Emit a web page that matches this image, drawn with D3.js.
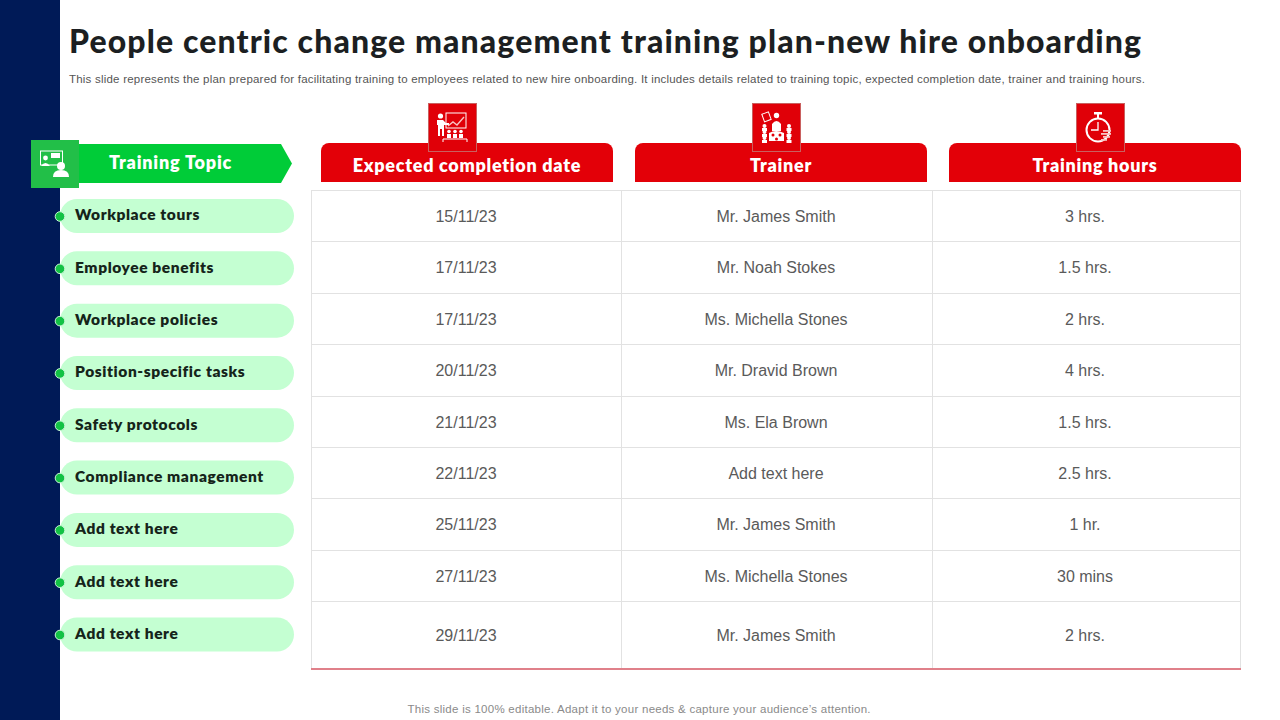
<!DOCTYPE html>
<html><head><meta charset="utf-8">
<script src="https://cdn.jsdelivr.net/npm/d3@7/dist/d3.min.js"></script>
<style>html,body{margin:0;padding:0;background:#fff;overflow:hidden}svg{display:block}</style>
</head><body><svg id="c" width="1280" height="720"></svg>
<script>
const titleText = "People centric change management training plan-new hire onboarding";
const subtitleText = "This slide represents the plan prepared for facilitating training to employees related to new hire onboarding. It includes details related to training topic, expected completion date, trainer and training hours.";
const footerText = "This slide is 100% editable. Adapt it to your needs & capture your audience\u2019s attention.";
const topicHeader = "Training Topic";
const columnHeaders = ["Expected completion date", "Trainer", "Training hours"];
const topics = ["Workplace tours","Employee benefits","Workplace policies","Position-specific tasks","Safety protocols","Compliance management","Add text here","Add text here","Add text here"];
const dates = ["15/11/23","17/11/23","17/11/23","20/11/23","21/11/23","22/11/23","25/11/23","27/11/23","29/11/23"];
const trainers = ["Mr. James Smith","Mr. Noah Stokes","Ms. Michella Stones","Mr. Dravid Brown","Ms. Ela Brown","Add text here","Mr. James Smith","Ms. Michella Stones","Mr. James Smith"];
const hours = ["3 hrs.","1.5 hrs.","2 hrs.","4 hrs.","1.5 hrs.","2.5 hrs.","1 hr.","30 mins","2 hrs."];

const svg = d3.select("#c");
const GEO = "Lato, 'Noto Sans', sans-serif", BODY = "'Liberation Sans', Arial, sans-serif";
const RED = "#e30008", GREEN = "#00cc38", MINT = "#c4ffd2", NAVY = "#001a57";

svg.append("rect").attr("x",0).attr("y",0).attr("width",60).attr("height",720).attr("fill",NAVY);

svg.append("text").attr("x",69).attr("y",53).attr("font-family",GEO).attr("font-weight",900)
  .attr("font-size",32).attr("fill","#1c1f22").attr("textLength",1072).attr("lengthAdjust","spacing").text(titleText);
svg.append("text").attr("x",69).attr("y",83).attr("font-family",BODY).attr("font-size",11.5)
  .attr("fill","#555").attr("textLength",1076).attr("lengthAdjust","spacing").text(subtitleText);
svg.append("text").attr("x",639).attr("y",713).attr("text-anchor","middle").attr("font-family",BODY)
  .attr("font-size",11.5).attr("fill","#8a8a8a").attr("textLength",463).attr("lengthAdjust","spacing").text(footerText);

/* Left: topic header */
svg.append("path").attr("d","M78,144H281L292,163.5L281,183H78Z").attr("fill",GREEN);
svg.append("rect").attr("x",31).attr("y",140).attr("width",48).attr("height",48).attr("fill","#22bf48");
svg.append("text").attr("x",170.5).attr("y",169).attr("text-anchor","middle").attr("font-family",GEO)
  .attr("font-weight",800).attr("font-size",18).attr("letter-spacing",0.8).attr("fill","#fff").text(topicHeader);
const ti = svg.append("g").attr("transform","translate(31,140)").attr("fill","#fff");
ti.append("rect").attr("x",9.5).attr("y",11).attr("width",22).attr("height",14).attr("fill","none").attr("stroke","#fff").attr("stroke-width",1);
ti.append("rect").attr("x",20).attr("y",13).attr("width",9).attr("height",5);
ti.append("circle").attr("cx",14.5).attr("cy",18).attr("r",2.4);
ti.append("path").attr("d","M10,26q4.5,-6 9,0Z");
ti.append("circle").attr("cx",30).attr("cy",26).attr("r",4);
ti.append("path").attr("d","M22,37q0,-7 8,-7q8,0 8,7Z");

/* Left: topic pills */
const pillY = d3.scalePoint().domain(d3.range(topics.length)).range([216,634.5]);
const pill = svg.append("g").selectAll("g").data(topics).join("g")
  .attr("transform",(d,i)=>`translate(0,${pillY(i)})`);
pill.append("rect").attr("x",60).attr("y",-17).attr("width",234).attr("height",34).attr("rx",17).attr("fill",MINT);
pill.append("circle").attr("cx",60).attr("cy",0.5).attr("r",4.8).attr("fill","#12c244").attr("stroke","#c9f5d5").attr("stroke-width",1);
pill.append("text").attr("x",75).attr("y",4.3).attr("font-family",GEO).attr("font-weight",800)
  .attr("font-size",15.5).attr("letter-spacing",0.6).attr("fill","#15241a").text(d=>d);

/* Table */
const colEdges = [311.5,621.5,932.5,1240.5];
const rowY = d3.scaleLinear().domain([0,8]).range([190,601]);
const rowBottom = i => i === topics.length-1 ? 669 : rowY(i+1);
const columns = [dates, trainers, hours];
const colCentres = [466,776,1085];
const grid = svg.append("g").attr("stroke","#e2e2e2").attr("stroke-width",1);
d3.range(0,9).forEach(i=>grid.append("line").attr("x1",311).attr("x2",1241).attr("y1",Math.round(rowY(i))+.5).attr("y2",Math.round(rowY(i))+.5));
colEdges.forEach(x=>grid.append("line").attr("y1",190).attr("y2",669).attr("x1",x).attr("x2",x));
svg.append("line").attr("x1",311).attr("x2",1241).attr("y1",669).attr("y2",669).attr("stroke","#e0808a").attr("stroke-width",2);
columns.forEach((col,c)=>{
  svg.append("g").selectAll("text").data(col).join("text")
    .attr("x",colCentres[c]).attr("y",(d,i)=>(rowY(i)+rowBottom(i))/2+6.4)
    .attr("text-anchor","middle").attr("font-family",BODY).attr("font-size",16).attr("fill","#5a5a5a").text(d=>d);
});

/* Column headers */
const headX = [321,635,949], headW = 292, iconX = [428,752,1076];
columnHeaders.forEach((h,i)=>{
  const x = headX[i];
  svg.append("path").attr("d",`M${x},182V151a8,8 0 0 1 8,-8H${x+headW-8}a8,8 0 0 1 8,8V182Z`).attr("fill",RED);
  svg.append("text").attr("x",x+headW/2).attr("y",172).attr("text-anchor","middle").attr("font-family",GEO)
    .attr("font-weight",800).attr("font-size",18).attr("letter-spacing",0.7).attr("fill","#fff").text(h);
  svg.append("rect").attr("x",iconX[i]+.5).attr("y",103.5).attr("width",48).attr("height",48)
    .attr("fill","#e00008").attr("stroke","#c9605f").attr("stroke-width",1);
});
/* Icon 1: presenter */
const a = svg.append("g").attr("transform","translate(428,103)").attr("fill","#fff").attr("stroke","none");
a.append("circle").attr("cx",12.5).attr("cy",13).attr("r",2.6);
a.append("path").attr("d","M9,17h6l3,3h3v2h-5v11h-2v-7h-2v7h-2V22H9Z");
a.append("rect").attr("x",18).attr("y",10).attr("width",20).attr("height",15).attr("fill","none").attr("stroke","#fff");
a.append("path").attr("d","M20,23l5,-4l4,3l7,-8").attr("fill","none").attr("stroke","#f7c3c3").attr("stroke-width",1.4);
[21,27,33].forEach(x=>{a.append("circle").attr("cx",x).attr("cy",28.5).attr("r",1.8);a.append("rect").attr("x",x-2).attr("y",31).attr("width",4).attr("height",4);});
a.append("path").attr("d","M15,39v-3h24v3").attr("fill","none").attr("stroke","#fff");
/* Icon 2: trainer with group */
const b = svg.append("g").attr("transform","translate(752,103)").attr("fill","#fff");
b.append("rect").attr("x",11).attr("y",10).attr("width",7).attr("height",8).attr("fill","none").attr("stroke","#fff").attr("transform","rotate(-20 14 14)");
b.append("circle").attr("cx",24.5).attr("cy",12.5).attr("r",2.7);
b.append("path").attr("d","M20,21q4.5,-6 9,0v7h-9Z");
b.append("path").attr("d","M17,38v-8q7,-4 15,0v8Z");
[12.5,37].forEach(x=>[23,29,35].forEach(y=>{b.append("circle").attr("cx",x).attr("cy",y).attr("r",2);b.append("rect").attr("x",x-2.5).attr("y",y+2).attr("width",5).attr("height",3);}));
[[21,32],[28,32],[24.5,36]].forEach(p=>b.append("circle").attr("cx",p[0]).attr("cy",p[1]).attr("r",1.5).attr("fill",RED));
/* Icon 3: stopwatch */
const s = svg.append("g").attr("transform","translate(1076,103)");
s.append("circle").attr("cx",22).attr("cy",27).attr("r",11.5).attr("fill","none").attr("stroke","#fff").attr("stroke-width",2);
s.append("rect").attr("x",18).attr("y",9).attr("width",8).attr("height",2.5).attr("fill","#fff");
s.append("rect").attr("x",21).attr("y",11).attr("width",2).attr("height",4).attr("fill","#fff");
s.append("path").attr("d","M22,19V27H15").attr("fill","none").attr("stroke","#fff").attr("stroke-width",1.3);
[[27,27,8],[25,30,10],[27,33,7],[25,36,6]].forEach(r=>s.append("rect").attr("x",r[0]).attr("y",r[1]).attr("width",r[2]).attr("height",1.8).attr("fill","#f7c3c3"));
</script></body></html>
